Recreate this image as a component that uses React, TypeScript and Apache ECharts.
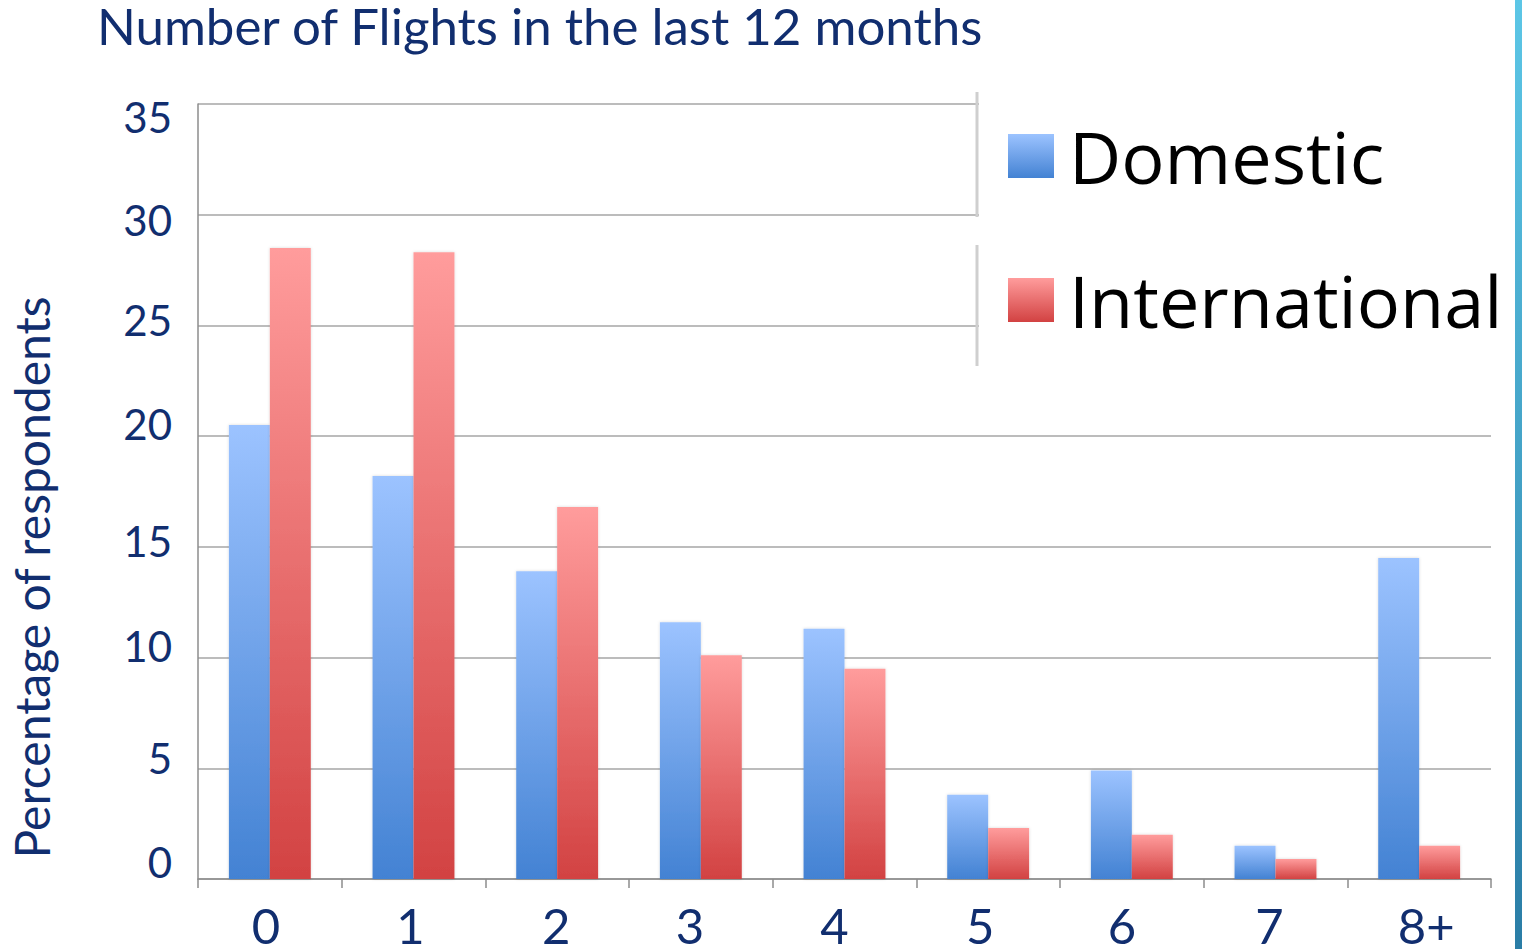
import React, { useEffect, useRef } from "react";
import * as echarts from "echarts";

const categories = ["0", "1", "2", "3", "4", "5", "6", "7", "8+"];
const domestic = [20.5, 18.2, 13.9, 11.6, 11.3, 3.8, 4.9, 1.5, 14.5];
const international = [28.5, 28.3, 16.8, 10.1, 9.5, 2.3, 2.0, 0.9, 1.5];
const yTicks = [0, 5, 10, 15, 20, 25, 30, 35];
// vertical nudge of each y tick label (px, + = down)
const yLabelShift: Record<string, number> = { "0": -17, "5": -10, "10": -12, "15": -6, "20": -12, "25": -5, "30": 5, "35": 13 };
// horizontal nudge of each x tick label (px, + = right)
const xLabelShift = [-4, -3, -1, -11, -10, -8, -10, -6, 7];

const NAVY = "#112E6F";
const FONT = "Lato, 'Open Sans', sans-serif";

export default function App() {
  const ref = useRef<HTMLDivElement>(null);
  useEffect(() => {
    const chart = echarts.init(ref.current!, null, { renderer: "svg" });
    const blueGrad = new echarts.graphic.LinearGradient(0, 0, 0, 1, [
      { offset: 0, color: "#9CC3FF" },
      { offset: 1, color: "#4382D3" },
    ]);
    const redGrad = new echarts.graphic.LinearGradient(0, 0, 0, 1, [
      { offset: 0, color: "#FF9C9C" },
      { offset: 1, color: "#D24242" },
    ]);
    const richY: Record<string, any> = {};
    yTicks.forEach((t) => {
      const d = yLabelShift[String(t)] || 0;
      richY["s" + t] = {
        fontSize: 42,
        fontFamily: FONT,
        color: NAVY,
        padding: d >= 0 ? [2 * d, 0, 0, 0] : [0, 0, -2 * d, 0],
      };
    });
    const richX: Record<string, any> = {};
    categories.forEach((c, i) => {
      const d = xLabelShift[i] || 0;
      richX["c" + i] = {
        fontSize: 49,
        fontFamily: FONT,
        color: NAVY,
        padding: d >= 0 ? [0, 0, 0, 2 * d] : [0, -2 * d, 0, 0],
      };
    });
    chart.setOption({
      animation: false,
      backgroundColor: "#fff",
      title: {
        text: "Number of Flights in the last 12 months",
        left: 92,
        top: -5,
        textStyle: { color: NAVY, fontSize: 51, fontWeight: "normal", fontFamily: FONT },
      },
      grid: { left: 198, right: 31, top: 104, bottom: 70, containLabel: false, outerBoundsMode: "none" },
      legend: {
        orient: "vertical",
        left: 1003,
        top: 115,
        itemWidth: 46,
        itemHeight: 44,
        itemGap: 72,
        icon: "rect",
        z: 10,
        textStyle: {
          fontSize: 72,
          lineHeight: 44,
          fontFamily: "'Open Sans', 'Noto Sans', sans-serif",
          color: "#000",
          padding: [26, 0, 0, 10],
        },
        data: ["Domestic", "International"],
      },
      xAxis: {
        type: "category",
        data: categories,
        axisLine: { lineStyle: { color: "#8C8C8C", width: 1.5 } },
        axisTick: { show: true, length: 9, alignWithLabel: false, lineStyle: { color: "#8C8C8C", width: 1.5 } },
        axisLabel: {
          margin: 21,
          formatter: (v: string) => `{c${categories.indexOf(v)}|${v}}`,
          rich: richX,
        },
      },
      yAxis: {
        type: "value",
        min: 0,
        max: 35,
        interval: 5,
        axisLine: { show: true, lineStyle: { color: "#8C8C8C", width: 1.5 } },
        axisTick: { show: false },
        splitLine: { lineStyle: { color: "#A6A6A6", width: 1.5 } },
        axisLabel: {
          margin: 26,
          formatter: (v: number) => `{s${v}|${v}}`,
          rich: richY,
        },
        name: "Percentage of respondents",
        nameLocation: "middle",
        nameGap: 143,
        nameRotate: 90,
        nameTextStyle: { fontSize: 48, fontFamily: FONT, color: NAVY, padding: [0, 172, 0, 0] },
      },
      series: [
        {
          name: "Domestic",
          type: "bar",
          data: domestic,
          barGap: "0%",
          barCategoryGap: "43%",
          itemStyle: { color: blueGrad, shadowBlur: 3, shadowColor: "rgba(0,0,0,0.15)" },
        },
        {
          name: "International",
          type: "bar",
          data: international,
          itemStyle: { color: redGrad, shadowBlur: 3, shadowColor: "rgba(0,0,0,0.15)" },
        },
      ],
      graphic: [
        {
          type: "rect",
          z: 1,
          shape: { x: 979, y: 88, width: 543, height: 282 },
          style: { fill: "#fff" },
        },
        {
          type: "line",
          z: 2,
          shape: { x1: 977, y1: 92, x2: 977, y2: 217 },
          style: { stroke: "#CFCFCF", lineWidth: 3 },
        },
        {
          type: "line",
          z: 2,
          shape: { x1: 977, y1: 245, x2: 977, y2: 366 },
          style: { stroke: "#CFCFCF", lineWidth: 3 },
        },
        {
          type: "rect",
          z: 3,
          shape: { x: 1515, y: 0, width: 7, height: 949 },
          style: {
            fill: new echarts.graphic.LinearGradient(0, 0, 0, 1, [
              { offset: 0, color: "#5CC6E6" },
              { offset: 1, color: "#2A7DA6" },
            ]),
          },
        },
      ],
    });
    return () => chart.dispose();
  }, []);
  return <div ref={ref} style={{ position: "fixed", left: 0, top: 0, width: 1522, height: 949 }} />;
}
